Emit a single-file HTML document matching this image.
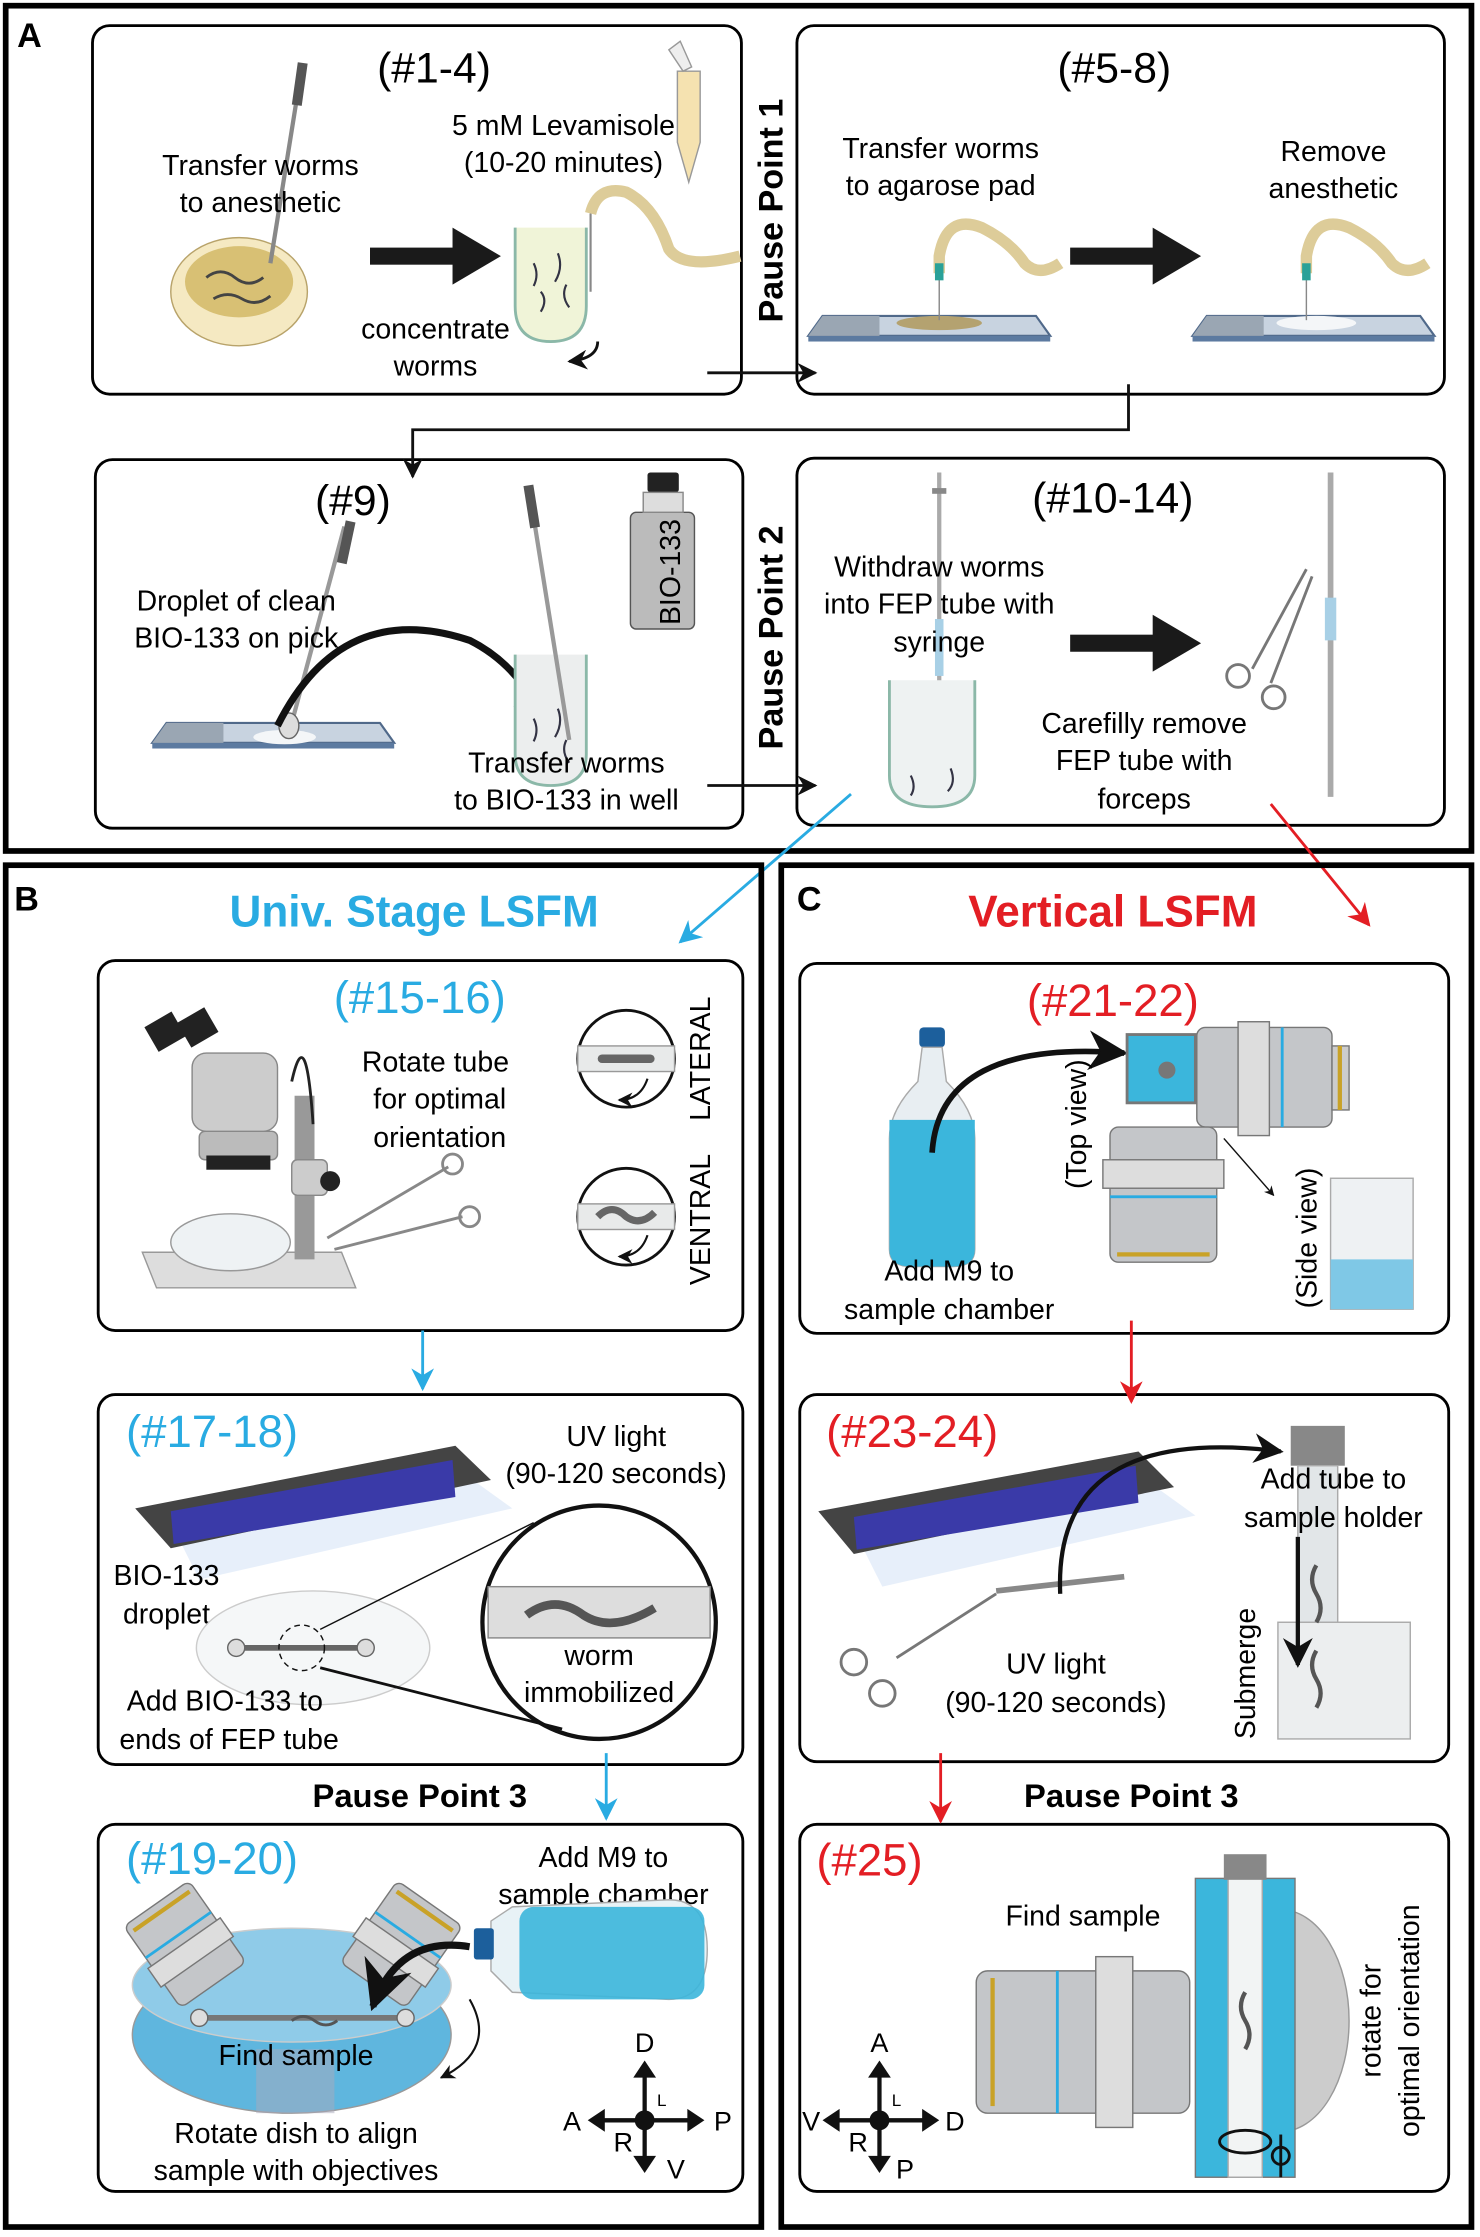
<!DOCTYPE html>
<html><head><meta charset="utf-8"><style>
html,body{margin:0;padding:0;background:#fff}
svg{display:block}
text{font-family:"Liberation Sans",Arial,sans-serif}
</style></head><body>
<svg width="1480" height="2237" viewBox="0 0 1040 1572" preserveAspectRatio="none" xmlns="http://www.w3.org/2000/svg">
<defs>
<marker id="ak" viewBox="0 0 10 10" refX="9" refY="5" markerWidth="7" markerHeight="7" orient="auto"><path d="M0,0 L10,5 L0,10 L3,5z" fill="#111"/></marker>
<marker id="ab" viewBox="0 0 10 10" refX="9" refY="5" markerWidth="8" markerHeight="8" orient="auto"><path d="M0,0 L10,5 L0,10 L3,5z" fill="#29abe2"/></marker>
<marker id="ar" viewBox="0 0 10 10" refX="9" refY="5" markerWidth="8" markerHeight="8" orient="auto"><path d="M0,0 L10,5 L0,10 L3,5z" fill="#e31e24"/></marker>
<g id="bigarrow"><rect x="0" y="-6" width="62" height="12" fill="#1a1a1a"/><path d="M58,-20 L92,0 L58,20z" fill="#1a1a1a"/></g>
<g id="slide"><path d="M0,0 L150,0 L160,14 L-10,14z" fill="#c8d3e0" stroke="#50698a" stroke-width="1.5"/><rect x="-10" y="14" width="170" height="4" fill="#5c7aa0"/><path d="M0,0 L40,0 L40,14 L-10,14z" fill="#9aa6b3"/></g>
<g id="obj2"><rect x="-28" y="0" width="56" height="70" rx="5" fill="#c4c6c9" stroke="#777"/><rect x="-31" y="20" width="62" height="16" fill="#ddd" stroke="#777"/><rect x="-28" y="42" width="56" height="2" fill="#29abe2"/><rect x="-24" y="62" width="48" height="3" fill="#c9a227"/></g>
</defs>
<rect width="1040" height="1572" fill="#fff"/>

<!-- Panel A -->
<rect x="4" y="4" width="1030" height="594" fill="none" stroke="#000" stroke-width="4"/>
<text x="12" y="33" font-size="24" font-weight="bold">A</text>
<rect x="65" y="18" width="456" height="259" rx="12" fill="none" stroke="#000" stroke-width="2"/>
<rect x="560" y="18" width="455" height="259" rx="12" fill="none" stroke="#000" stroke-width="2"/>
<rect x="67" y="323" width="455" height="259" rx="12" fill="none" stroke="#000" stroke-width="2"/>
<rect x="560" y="322" width="455" height="258" rx="12" fill="none" stroke="#000" stroke-width="2"/>
<text transform="translate(550,148) rotate(-90)" font-size="24" font-weight="bold" text-anchor="middle">Pause Point 1</text>
<text transform="translate(550,448) rotate(-90)" font-size="24" font-weight="bold" text-anchor="middle">Pause Point 2</text>

<!-- box1 -->
<text x="305" y="58" font-size="30" text-anchor="middle">(#1-4)</text>
<ellipse cx="168" cy="205" rx="48" ry="38" fill="#f5e9c2" stroke="#b8a36a"/>
<ellipse cx="168" cy="198" rx="38" ry="25" fill="#d8c074"/>
<path d="M145,195 q10,-8 20,0 q10,8 20,0 M150,210 q10,-6 20,0 q10,6 20,-2" fill="none" stroke="#444" stroke-width="2"/>
<line x1="212" y1="48" x2="190" y2="185" stroke="#888" stroke-width="3"/>
<rect x="207" y="44" width="7" height="30" fill="#555" transform="rotate(8 210 60)"/>
<text x="183" y="123" font-size="20" text-anchor="middle">Transfer worms</text>
<text x="183" y="149" font-size="20" text-anchor="middle">to anesthetic</text>
<text x="396" y="95" font-size="20" text-anchor="middle">5 mM Levamisole</text>
<text x="396" y="121" font-size="20" text-anchor="middle">(10-20 minutes)</text>
<text x="306" y="238" font-size="20" text-anchor="middle">concentrate</text>
<text x="306" y="264" font-size="20" text-anchor="middle">worms</text>
<use href="#bigarrow" x="260" y="180"/>
<path d="M362,160 L362,215 Q362,240 387,240 Q412,240 412,215 L412,160" fill="#f0f4d8" stroke="#8bb8a8" stroke-width="2"/>
<path d="M375,185 q4,8 0,16 M392,178 q4,10 -2,20 M380,205 q5,6 0,14 M398,200 q-4,8 2,16" fill="none" stroke="#334" stroke-width="1.5"/>
<line x1="415" y1="150" x2="415" y2="205" stroke="#888" stroke-width="1.5"/>
<path d="M415,150 Q420,130 440,135 Q460,145 470,175 Q480,190 520,180" fill="none" stroke="#ddcc99" stroke-width="8"/>
<path d="M476,50 L492,50 L492,100 L484,128 L476,100z" fill="#f5e2b0" stroke="#999"/>
<path d="M470,35 l8,-6 l8,18 l-6,3z" fill="#eee" stroke="#999"/>
<path d="M420,240 Q420,252 400,254" fill="none" stroke="#111" stroke-width="2" marker-end="url(#ak)"/>
<line x1="497" y1="262" x2="573" y2="262" stroke="#111" stroke-width="2" marker-end="url(#ak)"/>
<!-- box2 -->
<text x="783" y="58" font-size="30" text-anchor="middle">(#5-8)</text>
<text x="661" y="111" font-size="20" text-anchor="middle">Transfer worms</text>
<text x="661" y="137" font-size="20" text-anchor="middle">to agarose pad</text>
<text x="937" y="113" font-size="20" text-anchor="middle">Remove</text>
<text x="937" y="139" font-size="20" text-anchor="middle">anesthetic</text>
<use href="#slide" x="578" y="222"/>
<ellipse cx="660" cy="227" rx="30" ry="5" fill="#b4a270"/>
<line x1="660" y1="190" x2="660" y2="225" stroke="#888"/>
<path d="M660,192 L660,180 Q665,150 690,160 Q710,170 720,185 Q730,195 745,185" fill="none" stroke="#ddcc99" stroke-width="8"/>
<rect x="657" y="185" width="6" height="12" fill="#2aa198"/>
<use href="#bigarrow" x="752" y="180"/>
<use href="#slide" x="848" y="222"/>
<ellipse cx="925" cy="227" rx="28" ry="5" fill="#f4f6f8"/>
<line x1="918" y1="190" x2="918" y2="225" stroke="#888"/>
<path d="M918,192 L918,180 Q923,150 948,160 Q968,170 978,185 Q988,195 1003,185" fill="none" stroke="#ddcc99" stroke-width="8"/>
<rect x="915" y="185" width="6" height="12" fill="#2aa198"/>
<polyline points="793,270 793,302 290,302 290,335" fill="none" stroke="#111" stroke-width="2" marker-end="url(#ak)"/>
<!-- box3 -->
<text x="248" y="362" font-size="30" text-anchor="middle">(#9)</text>
<use href="#slide" x="117" y="508"/>
<ellipse cx="200" cy="518" rx="22" ry="5" fill="#f4f6f8"/>
<line x1="242" y1="370" x2="205" y2="508" stroke="#999" stroke-width="3"/>
<rect x="240" y="366" width="7" height="30" fill="#555" transform="rotate(12 243 380)"/>
<ellipse cx="203" cy="510" rx="7" ry="9" fill="#ddd" stroke="#666"/>
<path d="M195,510 Q240,420 330,450 Q370,470 388,520" fill="none" stroke="#111" stroke-width="5" marker-end="url(#ak)"/>
<path d="M362,460 L362,530 Q362,552 387,552 Q412,552 412,530 L412,460" fill="#eceeee" stroke="#8bb8a8" stroke-width="2"/>
<path d="M375,505 q4,8 0,16 M392,498 q4,10 -2,20 M398,520 q-4,8 2,16" fill="none" stroke="#334" stroke-width="1.5"/>
<line x1="372" y1="345" x2="400" y2="520" stroke="#999" stroke-width="3"/>
<rect x="370" y="341" width="7" height="30" fill="#555" transform="rotate(-9 373 355)"/>
<text x="166" y="429" font-size="20" text-anchor="middle">Droplet of clean</text>
<text x="166" y="455" font-size="20" text-anchor="middle">BIO-133 on pick</text>
<text x="398" y="543" font-size="20" text-anchor="middle">Transfer worms</text>
<text x="398" y="569" font-size="20" text-anchor="middle">to BIO-133 in well</text>
<rect x="443" y="360" width="45" height="82" rx="4" fill="#bbb" stroke="#555"/>
<rect x="455" y="332" width="22" height="14" rx="2" fill="#222"/>
<rect x="452" y="346" width="28" height="14" fill="#ddd" stroke="#888"/>
<text transform="translate(478,402) rotate(-90)" font-size="20" text-anchor="middle">BIO-133</text>
<line x1="497" y1="552" x2="573" y2="552" stroke="#111" stroke-width="2" marker-end="url(#ak)"/>
<!-- box4 -->
<text x="782" y="360" font-size="30" text-anchor="middle">(#10-14)</text>
<line x1="660" y1="332" x2="660" y2="540" stroke="#aaa" stroke-width="3"/>
<rect x="655" y="343" width="10" height="4" fill="#888"/>
<rect x="657" y="435" width="6" height="40" fill="#a8d0e6"/>
<path d="M625,478 L625,545 Q625,567 655,567 Q685,567 685,545 L685,478" fill="#eef2f2" stroke="#8bb8a8" stroke-width="2"/>
<path d="M640,545 q4,8 0,14 M668,540 q4,10 -2,16" fill="none" stroke="#334" stroke-width="1.5"/>
<text x="660" y="405" font-size="20" text-anchor="middle">Withdraw worms</text>
<text x="660" y="431" font-size="20" text-anchor="middle">into FEP tube with</text>
<text x="660" y="458" font-size="20" text-anchor="middle">syringe</text>
<text x="804" y="515" font-size="20" text-anchor="middle">Carefilly remove</text>
<text x="804" y="541" font-size="20" text-anchor="middle">FEP tube with</text>
<text x="804" y="568" font-size="20" text-anchor="middle">forceps</text>
<use href="#bigarrow" x="752" y="452"/>
<line x1="935" y1="332" x2="935" y2="560" stroke="#aaa" stroke-width="4"/>
<rect x="931" y="420" width="8" height="30" fill="#a8d0e6"/>
<line x1="918" y1="400" x2="880" y2="470" stroke="#777" stroke-width="2"/>
<line x1="922" y1="405" x2="893" y2="480" stroke="#777" stroke-width="2"/>
<circle cx="870" cy="475" r="8" fill="none" stroke="#777" stroke-width="2"/><circle cx="895" cy="490" r="8" fill="none" stroke="#777" stroke-width="2"/>
<line x1="598" y1="558" x2="478" y2="662" stroke="#29abe2" stroke-width="2" marker-end="url(#ab)"/>
<line x1="893" y1="565" x2="962" y2="650" stroke="#e31e24" stroke-width="2" marker-end="url(#ar)"/>

<!-- Panel B -->
<rect x="4" y="608" width="531" height="957" fill="none" stroke="#000" stroke-width="4"/>
<text x="10" y="640" font-size="24" font-weight="bold">B</text>
<text x="291" y="651" font-size="31" font-weight="bold" fill="#29abe2" text-anchor="middle">Univ. Stage LSFM</text>
<rect x="69" y="675" width="453" height="260" rx="12" fill="none" stroke="#000" stroke-width="2"/>
<rect x="69" y="980" width="453" height="260" rx="12" fill="none" stroke="#000" stroke-width="2"/>
<rect x="69" y="1282" width="453" height="258" rx="12" fill="none" stroke="#000" stroke-width="2"/>
<text x="295" y="712" font-size="32" fill="#29abe2" text-anchor="middle">(#15-16)</text>
<text x="306" y="753" font-size="20" text-anchor="middle">Rotate tube</text>
<text x="309" y="779" font-size="20" text-anchor="middle">for optimal</text>
<text x="309" y="806" font-size="20" text-anchor="middle">orientation</text>
<!-- microscope -->
<path d="M100,880 L240,880 L250,905 L110,905z" fill="#ddd" stroke="#999"/>
<ellipse cx="162" cy="873" rx="42" ry="20" fill="#eef2f4" stroke="#999"/>
<rect x="207" y="770" width="14" height="115" fill="#999"/>
<rect x="205" y="815" width="25" height="25" rx="4" fill="#ccc" stroke="#888"/>
<circle cx="232" cy="830" r="7" fill="#222"/>
<rect x="140" y="795" width="55" height="20" rx="4" fill="#bbb" stroke="#888"/>
<rect x="145" y="812" width="45" height="10" fill="#222"/>
<rect x="135" y="740" width="60" height="55" rx="10" fill="#ccc" stroke="#888"/>
<rect x="105" y="715" width="22" height="20" fill="#222" transform="rotate(-30 116 725)"/>
<rect x="128" y="712" width="22" height="20" fill="#222" transform="rotate(-30 139 722)"/>
<path d="M205,760 Q215,715 220,790" fill="none" stroke="#222" stroke-width="2"/>
<line x1="230" y1="870" x2="315" y2="820" stroke="#888" stroke-width="2"/><line x1="235" y1="878" x2="325" y2="855" stroke="#888" stroke-width="2"/>
<circle cx="318" cy="818" r="7" fill="none" stroke="#888" stroke-width="2"/><circle cx="330" cy="855" r="7" fill="none" stroke="#888" stroke-width="2"/>
<circle cx="440" cy="744" r="34" fill="#fff" stroke="#111" stroke-width="2"/>
<rect x="406" y="735" width="68" height="18" fill="#e8eaea" stroke="#999"/>
<rect x="420" y="741" width="40" height="6" rx="3" fill="#666"/>
<path d="M455,758 q-5,15 -20,15" fill="none" stroke="#111" stroke-width="1.5" marker-end="url(#ak)"/>
<circle cx="440" cy="855" r="34" fill="#fff" stroke="#111" stroke-width="2"/>
<rect x="406" y="846" width="68" height="18" fill="#e8eaea" stroke="#999"/>
<path d="M420,855 Q430,845 440,855 Q450,862 460,852" fill="none" stroke="#666" stroke-width="5"/>
<path d="M455,868 q-5,15 -20,15" fill="none" stroke="#111" stroke-width="1.5" marker-end="url(#ak)"/>
<text transform="translate(499,744) rotate(-90)" font-size="20" text-anchor="middle">LATERAL</text>
<text transform="translate(499,857) rotate(-90)" font-size="20" text-anchor="middle">VENTRAL</text>
<line x1="297" y1="935" x2="297" y2="976" stroke="#29abe2" stroke-width="2" marker-end="url(#ab)"/>

<text x="149" y="1017" font-size="32" fill="#29abe2" text-anchor="middle">(#17-18)</text>
<text x="433" y="1016" font-size="20" text-anchor="middle">UV light</text>
<text x="433" y="1042" font-size="20" text-anchor="middle">(90-120 seconds)</text>
<path d="M125,1080 L335,1042 L360,1060 L140,1110z" fill="#dde8f8" opacity="0.7"/>
<path d="M95,1060 L320,1016 L345,1040 L120,1088z" fill="#444"/>
<path d="M120,1062 L318,1026 L320,1052 L122,1085z" fill="#3a3aa8"/>
<text x="117" y="1114" font-size="20" text-anchor="middle">BIO-133</text>
<text x="117" y="1141" font-size="20" text-anchor="middle">droplet</text>
<ellipse cx="220" cy="1158" rx="82" ry="40" fill="#f5f7f8" stroke="#ccc"/>
<line x1="168" y1="1158" x2="257" y2="1158" stroke="#666" stroke-width="4"/>
<circle cx="166" cy="1158" r="6" fill="#ddd" stroke="#666"/><circle cx="257" cy="1158" r="6" fill="#ddd" stroke="#666"/>
<circle cx="212" cy="1158" r="16" fill="none" stroke="#111" stroke-dasharray="4 3"/>
<circle cx="421" cy="1140" r="82" fill="#fff" stroke="#111" stroke-width="3"/>
<rect x="343" y="1115" width="156" height="36" fill="#ddd" stroke="#888"/>
<path d="M370,1135 Q390,1120 410,1135 Q430,1148 460,1130" fill="none" stroke="#555" stroke-width="6"/>
<line x1="225" y1="1145" x2="375" y2="1070" stroke="#111"/>
<line x1="225" y1="1172" x2="395" y2="1215" stroke="#111" stroke-width="2"/>
<text x="421" y="1170" font-size="20" text-anchor="middle">worm</text>
<text x="421" y="1196" font-size="20" text-anchor="middle">immobilized</text>
<text x="158" y="1202" font-size="20" text-anchor="middle">Add BIO-133 to</text>
<text x="161" y="1229" font-size="20" text-anchor="middle">ends of FEP tube</text>
<text x="295" y="1270" font-size="23" font-weight="bold" text-anchor="middle">Pause Point 3</text>
<line x1="426" y1="1232" x2="426" y2="1278" stroke="#29abe2" stroke-width="2" marker-end="url(#ab)"/>

<text x="149" y="1317" font-size="32" fill="#29abe2" text-anchor="middle">(#19-20)</text>
<text x="424" y="1312" font-size="20" text-anchor="middle">Add M9 to</text>
<text x="424" y="1338" font-size="20" text-anchor="middle">sample chamber</text>
<ellipse cx="205" cy="1430" rx="112" ry="55" fill="#5fb6de" stroke="#999"/>
<ellipse cx="205" cy="1395" rx="112" ry="40" fill="#8fcbe8" stroke="#ccc"/>
<rect x="180" y="1440" width="55" height="45" fill="#aab" opacity="0.5"/>
<g transform="translate(150,1395) rotate(145)"><use href="#obj2"/></g>
<g transform="translate(262,1395) rotate(-145)"><use href="#obj2"/></g>
<line x1="140" y1="1418" x2="285" y2="1418" stroke="#777" stroke-width="4"/>
<circle cx="140" cy="1418" r="6" fill="#ddd" stroke="#666"/><circle cx="285" cy="1418" r="6" fill="#ddd" stroke="#666"/>
<path d="M205,1420 q8,-6 16,0 q8,6 16,0" fill="none" stroke="#555" stroke-width="2"/>
<path d="M345,1350 L360,1340 L470,1335 Q497,1335 497,1370 Q497,1405 470,1405 L360,1400 L345,1385z" fill="#e8f2f6" stroke="#aaa"/>
<rect x="365" y="1340" width="130" height="65" rx="10" fill="#3bb6dc" opacity="0.9"/>
<rect x="333" y="1355" width="14" height="22" rx="2" fill="#1c5f9c"/>
<path d="M330,1368 Q280,1360 262,1410" fill="none" stroke="#111" stroke-width="5" marker-end="url(#ak)"/>
<path d="M330,1405 Q350,1440 310,1460" fill="none" stroke="#111" stroke-width="1.5" marker-end="url(#ak)"/>
<text x="208" y="1451" font-size="20" text-anchor="middle">Find sample</text>
<text x="208" y="1506" font-size="20" text-anchor="middle">Rotate dish to align</text>
<text x="208" y="1532" font-size="20" text-anchor="middle">sample with objectives</text>
<g stroke="#111" stroke-width="3"><line x1="453" y1="1453" x2="453" y2="1520"/><line x1="418" y1="1490" x2="490" y2="1490"/></g>
<path d="M453,1448 l-8,12 h16z M453,1527 l-8,-12 h16z M413,1490 l12,-8 v16z M495,1490 l-12,-8 v16z" fill="#111"/>
<circle cx="453" cy="1490" r="7" fill="#111"/>
<text x="453" y="1442" font-size="19" text-anchor="middle">D</text>
<text x="475" y="1531" font-size="19" text-anchor="middle">V</text>
<text x="402" y="1497" font-size="19" text-anchor="middle">A</text>
<text x="508" y="1497" font-size="19" text-anchor="middle">P</text>
<text x="438" y="1512" font-size="19" text-anchor="middle">R</text>
<text x="465" y="1480" font-size="12" text-anchor="middle">L</text>

<!-- Panel C -->
<rect x="549" y="608" width="485" height="957" fill="none" stroke="#000" stroke-width="4"/>
<text x="560" y="640" font-size="24" font-weight="bold">C</text>
<text x="782" y="651" font-size="31" font-weight="bold" fill="#e31e24" text-anchor="middle">Vertical LSFM</text>
<rect x="562" y="677" width="456" height="260" rx="12" fill="none" stroke="#000" stroke-width="2"/>
<rect x="562" y="980" width="456" height="258" rx="12" fill="none" stroke="#000" stroke-width="2"/>
<rect x="562" y="1282" width="456" height="258" rx="12" fill="none" stroke="#000" stroke-width="2"/>
<text x="782" y="714" font-size="32" fill="#e31e24" text-anchor="middle">(#21-22)</text>
<rect x="646" y="722" width="18" height="14" rx="3" fill="#1c5f9c"/>
<path d="M648,736 L662,736 L665,760 Q685,780 685,800 L685,878 Q685,890 670,890 L640,890 Q625,890 625,878 L625,800 Q625,780 645,760z" fill="#e8eef2" stroke="#aaa"/>
<path d="M625,787 L685,787 L685,878 Q685,890 670,890 L640,890 Q625,890 625,878z" fill="#3bb6dc"/>
<path d="M655,810 Q660,730 790,740" fill="none" stroke="#111" stroke-width="4" marker-end="url(#ak)"/>
<rect x="792" y="727" width="48" height="48" fill="#3bb6dc" stroke="#777" stroke-width="2"/>
<circle cx="820" cy="752" r="6" fill="#777"/>
<rect x="841" y="722" width="95" height="70" rx="6" fill="#c4c6c9" stroke="#777"/>
<rect x="870" y="718" width="22" height="80" fill="#ddd" stroke="#777"/>
<rect x="900" y="722" width="2" height="70" fill="#29abe2"/>
<rect x="936" y="735" width="12" height="45" fill="#ccc" stroke="#777"/><rect x="940" y="735" width="3" height="45" fill="#c9a227"/>
<rect x="780" y="792" width="75" height="95" rx="6" fill="#c4c6c9" stroke="#777"/>
<rect x="775" y="815" width="85" height="20" fill="#ddd" stroke="#777"/>
<rect x="780" y="840" width="75" height="2" fill="#29abe2"/><rect x="785" y="880" width="65" height="3" fill="#c9a227"/>
<line x1="860" y1="800" x2="895" y2="840" stroke="#111" marker-end="url(#ak)"/>
<text transform="translate(763,790) rotate(-90)" font-size="20" text-anchor="middle">(Top view)</text>
<text transform="translate(925,870) rotate(-90)" font-size="20" text-anchor="middle">(Side view)</text>
<rect x="935" y="828" width="58" height="92" fill="#eef1f3" stroke="#aaa"/>
<rect x="935" y="885" width="58" height="35" fill="#7fc8e6"/>
<text x="667" y="900" font-size="20" text-anchor="middle">Add M9 to</text>
<text x="667" y="927" font-size="20" text-anchor="middle">sample chamber</text>
<line x1="795" y1="928" x2="795" y2="985" stroke="#e31e24" stroke-width="2" marker-end="url(#ar)"/>

<text x="641" y="1017" font-size="32" fill="#e31e24" text-anchor="middle">(#23-24)</text>
<path d="M605,1085 L815,1047 L840,1065 L620,1115z" fill="#dde8f8" opacity="0.7"/>
<path d="M575,1062 L800,1020 L825,1045 L600,1092z" fill="#444"/>
<path d="M600,1066 L798,1030 L800,1056 L602,1089z" fill="#3a3aa8"/>
<line x1="700" y1="1118" x2="790" y2="1108" stroke="#888" stroke-width="4"/>
<line x1="700" y1="1120" x2="630" y2="1165" stroke="#777" stroke-width="2"/>
<circle cx="600" cy="1168" r="9" fill="none" stroke="#777" stroke-width="2"/><circle cx="620" cy="1190" r="9" fill="none" stroke="#777" stroke-width="2"/>
<path d="M745,1120 Q740,1000 900,1020" fill="none" stroke="#111" stroke-width="3" marker-end="url(#ak)"/>
<rect x="907" y="1002" width="38" height="28" fill="#888"/>
<rect x="912" y="1030" width="28" height="115" fill="#e2e6e8" stroke="#aaa"/>
<rect x="898" y="1140" width="93" height="82" fill="#eceeef" stroke="#aaa"/>
<path d="M925,1160 q-6,10 0,20 q6,10 0,20" fill="none" stroke="#555" stroke-width="3"/>
<path d="M925,1100 q-6,10 0,20 q6,10 0,20" fill="none" stroke="#555" stroke-width="3"/>
<line x1="912" y1="1080" x2="912" y2="1170" stroke="#111" stroke-width="3" marker-end="url(#ak)"/>
<text x="937" y="1046" font-size="20" text-anchor="middle">Add tube to</text>
<text x="937" y="1073" font-size="20" text-anchor="middle">sample holder</text>
<text transform="translate(882,1176) rotate(-90)" font-size="20" text-anchor="middle">Submerge</text>
<text x="742" y="1176" font-size="20" text-anchor="middle">UV light</text>
<text x="742" y="1203" font-size="20" text-anchor="middle">(90-120 seconds)</text>
<text x="795" y="1270" font-size="23" font-weight="bold" text-anchor="middle">Pause Point 3</text>
<line x1="661" y1="1232" x2="661" y2="1280" stroke="#e31e24" stroke-width="2" marker-end="url(#ar)"/>

<text x="611" y="1318" font-size="32" fill="#e31e24" text-anchor="middle">(#25)</text>
<text x="761" y="1353" font-size="20" text-anchor="middle">Find sample</text>
<ellipse cx="900" cy="1420" rx="48" ry="78" fill="#ccc" stroke="#999"/>
<rect x="686" y="1385" width="150" height="100" rx="8" fill="#c4c6c9" stroke="#777"/>
<rect x="770" y="1375" width="26" height="120" fill="#ddd" stroke="#777"/>
<rect x="742" y="1385" width="2" height="100" fill="#29abe2"/><rect x="696" y="1390" width="3" height="90" fill="#c9a227"/>
<rect x="840" y="1320" width="70" height="210" fill="#3bb6dc" stroke="#777"/>
<rect x="863" y="1320" width="24" height="210" fill="#f2f4f4" stroke="#aaa"/>
<rect x="860" y="1303" width="30" height="18" fill="#888"/>
<path d="M875,1400 q-6,10 0,20 q6,10 0,20" fill="none" stroke="#555" stroke-width="3"/>
<ellipse cx="875" cy="1505" rx="18" ry="8" fill="none" stroke="#111" stroke-width="2"/>
<line x1="900" y1="1500" x2="900" y2="1530" stroke="#111" stroke-width="2"/><circle cx="900" cy="1515" r="6" fill="none" stroke="#111" stroke-width="2"/>
<text transform="translate(970,1420) rotate(-90)" font-size="20" text-anchor="middle">rotate for</text>
<text transform="translate(997,1420) rotate(-90)" font-size="20" text-anchor="middle">optimal orientation</text>
<g stroke="#111" stroke-width="3"><line x1="618" y1="1453" x2="618" y2="1520"/><line x1="583" y1="1490" x2="655" y2="1490"/></g>
<path d="M618,1448 l-8,12 h16z M618,1527 l-8,-12 h16z M578,1490 l12,-8 v16z M660,1490 l-12,-8 v16z" fill="#111"/>
<circle cx="618" cy="1490" r="7" fill="#111"/>
<text x="618" y="1442" font-size="19" text-anchor="middle">A</text>
<text x="636" y="1531" font-size="19" text-anchor="middle">P</text>
<text x="570" y="1497" font-size="19" text-anchor="middle">V</text>
<text x="671" y="1497" font-size="19" text-anchor="middle">D</text>
<text x="603" y="1512" font-size="19" text-anchor="middle">R</text>
<text x="630" y="1480" font-size="12" text-anchor="middle">L</text>
</svg>
</body></html>
